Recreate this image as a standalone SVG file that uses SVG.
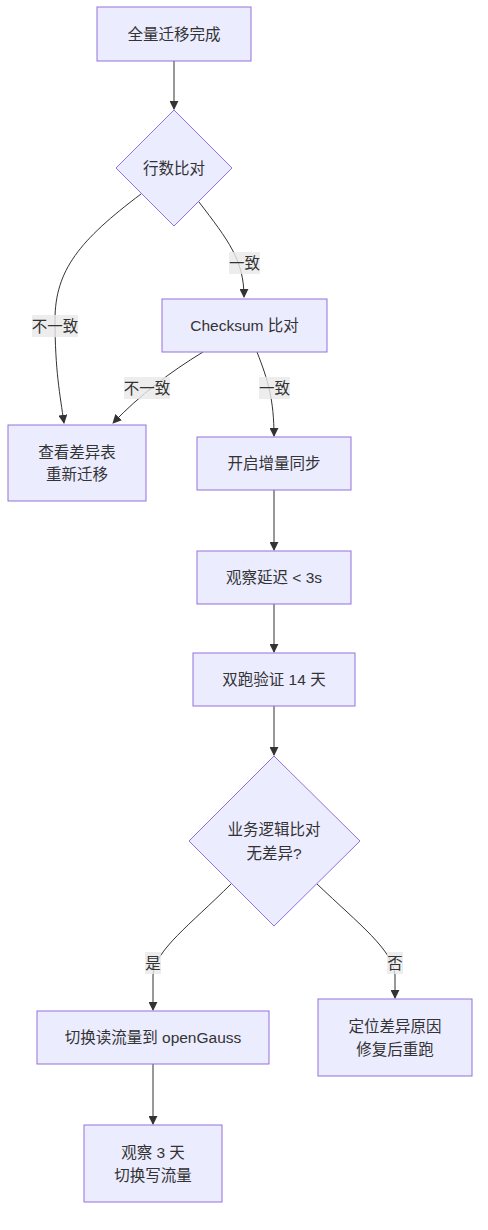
<svg xmlns="http://www.w3.org/2000/svg" width="488" height="1230" viewBox="0 0 488 1230">
<style>
.node rect,.node polygon{fill:#ECECFF;stroke:#9370DB;stroke-width:1}
.node text,.lbl text{font-family:"Liberation Sans","Noto Sans CJK SC",sans-serif;font-size:15.5px;fill:#333;text-anchor:middle;dominant-baseline:central}
.edges path{fill:none;stroke:#333;stroke-width:1}
.lbl rect{fill:#e8e8e8;opacity:0.8}
</style>
<defs>
<marker id="arr" viewBox="0 0 10 10" refX="9" refY="5" markerWidth="9" markerHeight="9" orient="auto" markerUnits="userSpaceOnUse"><path d="M0,0 L10,5 L0,10 z" fill="#333"/></marker>
</defs>
<rect width="488" height="1230" fill="#fff"/>
<g class="edges">
<path d="M174,61 L174,109" marker-end="url(#arr)"/>
<path d="M199,202 C228,240 244,260 244,297" marker-end="url(#arr)"/>
<path d="M141,194 C80,240 55,270 55,320 C55,370 60,395 64,423" marker-end="url(#arr)"/>
<path d="M203,352 C170,372 140,395 113,423" marker-end="url(#arr)"/>
<path d="M257,352 C268,380 274,400 274,436" marker-end="url(#arr)"/>
<path d="M274,490 L274,550" marker-end="url(#arr)"/>
<path d="M274,604 L274,652" marker-end="url(#arr)"/>
<path d="M274,706 L274,755" marker-end="url(#arr)"/>
<path d="M231,884 C190,925 155,950 153,975 L153,1010" marker-end="url(#arr)"/>
<path d="M317,884 C360,925 393,950 395,975 L395,998" marker-end="url(#arr)"/>
<path d="M153,1064 L153,1124" marker-end="url(#arr)"/>
</g>
<g class="lbl" id="l1"><rect x="229" y="252" width="31" height="22"/><text x="244.5" y="263">一致</text></g>
<g class="lbl" id="l2"><rect x="32" y="315" width="46" height="22"/><text x="55" y="326">不一致</text></g>
<g class="lbl" id="l3"><rect x="124" y="377" width="46" height="22"/><text x="147" y="388">不一致</text></g>
<g class="lbl" id="l4"><rect x="259" y="377" width="31" height="22"/><text x="274.5" y="388">一致</text></g>
<g class="lbl" id="l5"><rect x="145" y="952" width="16" height="22"/><text x="153" y="963">是</text></g>
<g class="lbl" id="l6"><rect x="387" y="952" width="16" height="22"/><text x="395" y="963">否</text></g>
<g class="node" id="A"><rect x="97" y="7" width="154" height="54"/><text x="174" y="34">全量迁移完成</text></g>
<g class="node" id="B"><polygon points="174,110 232,168 174,226 116,168"/><text x="174" y="168">行数比对</text></g>
<g class="node" id="C"><rect x="162" y="299" width="165" height="53"/><text x="244.5" y="325.5">Checksum 比对</text></g>
<g class="node" id="D"><rect x="8" y="425" width="138" height="76"/><text x="77" y="452">查看差异表</text><text x="77" y="474">重新迁移</text></g>
<g class="node" id="E"><rect x="197" y="437" width="154" height="53"/><text x="274" y="463.5">开启增量同步</text></g>
<g class="node" id="F"><rect x="197" y="551" width="154" height="53"/><text x="274" y="577.5">观察延迟 &lt; 3s</text></g>
<g class="node" id="G"><rect x="193" y="653" width="162" height="53"/><text x="274" y="679.5">双跑验证 14 天</text></g>
<g class="node" id="H"><polygon points="274,756 360,841 274,926 189,841"/><text x="274" y="829">业务逻辑比对</text><text x="274" y="853">无差异?</text></g>
<g class="node" id="I"><rect x="37" y="1011" width="232" height="53"/><text x="153" y="1037.5">切换读流量到 openGauss</text></g>
<g class="node" id="J"><rect x="318" y="999" width="154" height="77"/><text x="395" y="1026">定位差异原因</text><text x="395" y="1049">修复后重跑</text></g>
<g class="node" id="K"><rect x="84" y="1125" width="138" height="77"/><text x="153" y="1152">观察 3 天</text><text x="153" y="1175">切换写流量</text></g>
</svg>
